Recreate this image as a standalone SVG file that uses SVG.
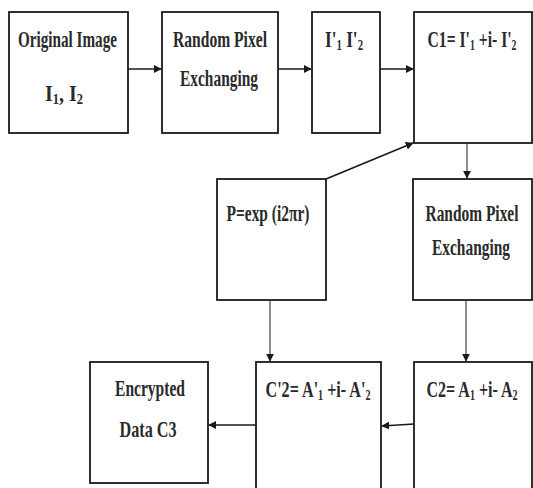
<svg xmlns="http://www.w3.org/2000/svg" width="533" height="488" viewBox="0 0 533 488">
<style>
.box{fill:#fff;stroke:#1a1a1a;stroke-width:1.8}
.t{font-family:"Liberation Serif","Times New Roman",serif;font-weight:bold;font-size:24px;fill:#2a2a2a;text-anchor:middle}
.s{font-size:15px}
.c{stroke:#1a1a1a;stroke-width:1.6;fill:none}
.c2{stroke:#333;stroke-width:1.1;fill:none}
</style>
<defs>
<marker id="ah" viewBox="0 0 10 10" refX="9" refY="5" markerWidth="8" markerHeight="8" markerUnits="userSpaceOnUse" orient="auto">
<path d="M0,0 L10,5 L0,10 z" fill="#1a1a1a"/>
</marker>
</defs>
<rect width="533" height="488" fill="#fff"/>
<g id="n1"><rect class="box" x="9" y="12" width="119" height="121"/>
<text class="t" x="67.5" y="47" textLength="99" lengthAdjust="spacingAndGlyphs">Original Image</text>
<text class="t" x="64" y="101" textLength="38" lengthAdjust="spacingAndGlyphs">I<tspan class="s" dy="3">1</tspan><tspan dy="-3">, I</tspan><tspan class="s" dy="3">2</tspan></text></g>
<g id="n2"><rect class="box" x="162" y="12" width="116" height="121"/>
<text class="t" x="220" y="47" textLength="94" lengthAdjust="spacingAndGlyphs">Random Pixel</text>
<text class="t" x="219" y="86" textLength="78" lengthAdjust="spacingAndGlyphs">Exchanging</text></g>
<g id="n3"><rect class="box" x="312" y="12" width="68" height="121"/>
<text class="t" x="344" y="47" textLength="38" lengthAdjust="spacingAndGlyphs">I'<tspan class="s" dy="3">1</tspan><tspan dy="-3"> I'</tspan><tspan class="s" dy="3">2</tspan></text></g>
<g id="n4"><rect class="box" x="414" y="12" width="118" height="131"/>
<text class="t" x="472" y="47" textLength="89" lengthAdjust="spacingAndGlyphs">C1= I'<tspan class="s" dy="3">1</tspan><tspan dy="-3"> +i- I'</tspan><tspan class="s" dy="3">2</tspan></text></g>
<g id="n5"><rect class="box" x="217" y="179" width="109" height="121"/>
<text class="t" x="268" y="221" textLength="83" lengthAdjust="spacingAndGlyphs">P=exp (i2πr)</text></g>
<g id="n6"><rect class="box" x="413" y="179" width="119" height="121"/>
<text class="t" x="472" y="221" textLength="93" lengthAdjust="spacingAndGlyphs">Random Pixel</text>
<text class="t" x="471" y="255" textLength="78" lengthAdjust="spacingAndGlyphs">Exchanging</text></g>
<g id="n7"><rect class="box" x="90" y="362" width="118" height="121"/>
<text class="t" x="150" y="396" textLength="70" lengthAdjust="spacingAndGlyphs">Encrypted</text>
<text class="t" x="148" y="437" textLength="57" lengthAdjust="spacingAndGlyphs">Data C3</text></g>
<g id="n8"><rect class="box" x="256" y="362" width="125" height="140"/>
<text class="t" x="318" y="397" textLength="105" lengthAdjust="spacingAndGlyphs">C'2= A'<tspan class="s" dy="3">1</tspan><tspan dy="-3"> +i- A'</tspan><tspan class="s" dy="3">2</tspan></text></g>
<g id="n9"><rect class="box" x="414" y="362" width="118" height="140"/>
<text class="t" x="472" y="397" textLength="91" lengthAdjust="spacingAndGlyphs">C2= A<tspan class="s" dy="3">1</tspan><tspan dy="-3"> +i- A</tspan><tspan class="s" dy="3">2</tspan></text></g>
<g id="connectors">
<line class="c" x1="128" y1="69" x2="161" y2="69" marker-end="url(#ah)"/>
<line class="c" x1="278" y1="69" x2="311" y2="69" marker-end="url(#ah)"/>
<line class="c" x1="380" y1="69" x2="413" y2="69" marker-end="url(#ah)"/>
<line class="c" x1="326" y1="179" x2="413" y2="143" marker-end="url(#ah)"/>
<line class="c2" x1="467" y1="143" x2="467" y2="178" marker-end="url(#ah)"/>
<line class="c2" x1="270" y1="300" x2="270" y2="361" marker-end="url(#ah)"/>
<line class="c2" x1="466" y1="300" x2="466" y2="361" marker-end="url(#ah)"/>
<line class="c" x1="414" y1="424" x2="382" y2="426" marker-end="url(#ah)"/>
<line class="c" x1="256" y1="425" x2="209" y2="425" marker-end="url(#ah)"/>
</g>
</svg>
